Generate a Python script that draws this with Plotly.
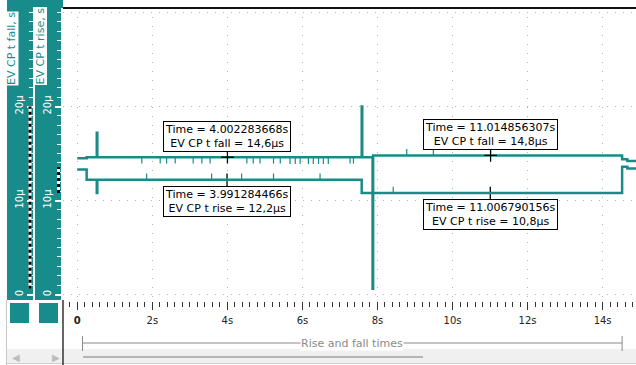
import plotly.graph_objects as go

W, H = 636, 365
TEAL = "#178c8b"
LINE = "#1b8b87"
FONT = "DejaVu Sans"

# ---------------- data (time in s, values in µs) ----------------
fall_t = [0.00, 0.25, 0.52, 0.535, 7.58, 7.595, 7.87, 7.885, 14.52, 14.66, 14.90]
fall_v = [14.5, 14.6, 17.2, 14.6, 20.0, 14.6, 0.6, 14.8, 14.4, 14.2, 14.2]

rise_t = [0.00, 0.25, 0.52, 0.535, 7.58, 14.52, 14.66, 14.90]
rise_v = [13.3, 12.2, 10.8, 12.2, 10.8, 13.6, 13.4, 13.4]

# short glitches seen on the traces
fall_glitch_t = [1.72, 2.21, 2.38, 2.61, 3.09, 3.32, 3.54, 4.52, 4.69, 4.87, 5.23, 5.41,
                 5.67, 5.81, 5.94, 6.16, 6.29, 6.43, 6.56, 6.69, 7.27, 7.36, 8.78, 9.49]
fall_glitch_v = [14.3, 14.3, 14.3, 14.3, 14.3, 14.3, 14.3, 14.3, 14.3, 14.3, 14.3, 14.3,
                 14.25, 14.25, 14.25, 14.25, 14.25, 14.25, 14.25, 14.25, 14.3, 14.3, 15.1, 15.1]
rise_glitch_t = [1.85, 3.58, 4.38, 5.23, 6.47, 8.42]
rise_glitch_v = [12.5, 12.5, 12.5, 12.5, 12.5, 11.1]

cursor_fall_t = [4.002283668, 11.014856307]
cursor_fall_v = [14.6, 14.8]
cursor_rise_t = [3.991284466, 11.006790156]
cursor_rise_v = [12.2, 10.8]

x_tick_vals = [0, 2, 4, 6, 8, 10, 12, 14]
x_tick_text = ["<b>0</b>", "2s", "4s", "6s", "8s", "10s", "12s", "14s"]
y_tick_vals = [0, 10, 20]
y_tick_text = ["0", "10µ", "20µ"]
y_grid_vals = [0, 10, 20, 30]

x_range = [-0.38, 14.89]
y_range = [-0.69, 30.48]
bracket_range = [0.14, 14.52]
series_names = ["EV CP t fall, s", "EV CP t rise, s"]
x_title = "Rise and fall times"


def px(x):
    return x / W


def py(y):
    return 1 - y / H


fig = go.Figure()
fig.add_trace(go.Scatter(x=fall_t, y=fall_v, mode="lines", line=dict(color=LINE, width=2.5, shape="hv"),
                         yaxis="y2", hoverinfo="skip"))
fig.add_trace(go.Scatter(x=rise_t, y=rise_v, mode="lines", line=dict(color=LINE, width=2.5, shape="hv"),
                         yaxis="y3", hoverinfo="skip"))
fig.add_trace(go.Scatter(x=fall_glitch_t, y=fall_glitch_v, mode="markers", yaxis="y2", hoverinfo="skip",
                         marker=dict(symbol="line-ns", size=5, line=dict(color=LINE, width=1.2))))
fig.add_trace(go.Scatter(x=rise_glitch_t, y=rise_glitch_v, mode="markers", yaxis="y3", hoverinfo="skip",
                         marker=dict(symbol="line-ns", size=5, line=dict(color=LINE, width=1.2))))
fig.add_trace(go.Scatter(x=cursor_fall_t + cursor_rise_t, y=cursor_fall_v + cursor_rise_v, mode="markers",
                         marker=dict(symbol="cross-thin", size=9, line=dict(color="black", width=1.3)),
                         yaxis="y2", hoverinfo="skip"))

grid_col = "#b5b5b5"
common_y = dict(range=y_range, zeroline=False, automargin=False, fixedrange=True)

panel_axis = dict(
    overlaying="y", anchor="free", side="left", showgrid=False, showline=True,
    linecolor="white", linewidth=2, ticks="outside", ticklen=6, tickwidth=1.5, tickcolor="white",
    tickmode="array", tickvals=y_tick_vals, ticktext=y_tick_text, tickangle=-90,
    tickfont=dict(family=FONT, size=10, color="white"),
    minor=dict(tickmode="linear", tick0=0, dtick=1, ticks="outside", ticklen=4, tickcolor="white",
               tickwidth=1, showgrid=False),
    **common_y,
)

fig.update_layout(
    width=W, height=H, template="none", showlegend=False,
    margin=dict(l=0, r=0, t=0, b=0),
    paper_bgcolor="white", plot_bgcolor="white",
    xaxis=dict(domain=[63 / W, 1], range=x_range, tickmode="array", tickvals=x_tick_vals, ticktext=x_tick_text,
               ticks="outside", ticklen=8, tickwidth=1, tickcolor="#333",
               minor=dict(tickmode="linear", tick0=0, dtick=0.2, ticks="outside", ticklen=5,
                          tickcolor="#333", tickwidth=1, showgrid=False),
               showgrid=True, gridcolor=grid_col, griddash="1px,8px", gridwidth=1,
               zeroline=False, showline=False, tickfont=dict(family=FONT, size=10, color="#222"),
               ticklabelstandoff=2, anchor="y", automargin=False, fixedrange=True),
    yaxis=dict(domain=[1 - 301 / H, 1 - 8 / H], tickmode="array", tickvals=y_grid_vals, showticklabels=False,
               ticks="", showgrid=True, gridcolor=grid_col, griddash="1px,7px", gridwidth=1, showline=False,
               **common_y),
    yaxis2=dict(position=33.5 / W, **panel_axis),
    yaxis3=dict(position=61.5 / W, **panel_axis),
)

shapes = []
# teal panels
shapes.append(dict(type="rect", xref="paper", yref="paper", x0=px(7), x1=px(63), y0=py(300), y1=py(0),
                   fillcolor=TEAL, line=dict(width=0), layer="below"))
# range bars (data min..max)
for xpix, vals in ((30, fall_v), (58.5, rise_v)):
    shapes.append(dict(type="line", xref="paper", yref="y", x0=px(xpix), x1=px(xpix), y0=min(vals), y1=max(vals),
                       line=dict(color="white", width=3)))
    shapes.append(dict(type="line", xref="paper", yref="y", x0=px(xpix), x1=px(xpix), y0=min(vals), y1=max(vals),
                       line=dict(color="black", width=3, dash="3px,3px")))
# top border
shapes.append(dict(type="line", xref="paper", yref="paper", x0=px(63), x1=1, y0=py(8), y1=py(8),
                   line=dict(color="#111", width=2)))
# bottom-left squares
for x0 in (10, 39):
    shapes.append(dict(type="rect", xref="paper", yref="paper", x0=px(x0), x1=px(x0 + 19), y0=py(323), y1=py(303),
                       fillcolor=TEAL, line=dict(width=0)))
# scroll strip
shapes.append(dict(type="rect", xref="paper", yref="paper", x0=px(7), x1=1, y0=py(363), y1=py(349),
                   fillcolor="#f0f0f0", line=dict(width=0), layer="below"))
shapes.append(dict(type="line", xref="paper", yref="paper", x0=px(7), x1=1, y0=py(363.5), y1=py(363.5),
                   line=dict(color="#cfcfcf", width=1)))
shapes.append(dict(type="line", xref="paper", yref="paper", x0=px(83), x1=px(423), y0=py(357), y1=py(357),
                   line=dict(color="#7a7a7a", width=1)))
# separators
shapes.append(dict(type="line", xref="paper", yref="paper", x0=px(63), x1=px(63), y0=py(300), y1=py(365),
                   line=dict(color="#333", width=1.5)))
shapes.append(dict(type="line", xref="paper", yref="paper", x0=px(6.5), x1=px(6.5), y0=py(300), y1=py(365),
                   line=dict(color="#c8c8c8", width=1)))
# x bracket
shapes.append(dict(type="line", xref="x", yref="paper", x0=bracket_range[0], x1=bracket_range[1],
                   y0=py(343), y1=py(343), line=dict(color="#8a8a8a", width=1)))
for xb in bracket_range:
    shapes.append(dict(type="line", xref="x", yref="paper", x0=xb, x1=xb, y0=py(336), y1=py(351),
                       line=dict(color="#8a8a8a", width=1)))

annotations = []
for xpix, name in zip((11.5, 40), series_names):
    annotations.append(dict(text=name, textangle=-90, xref="paper", yref="paper", x=px(xpix), y=py(86),
                            xanchor="center", yanchor="bottom", showarrow=False, bgcolor="white", borderpad=0,
                            font=dict(family=FONT, size=11, color=TEAL)))
for t, v in zip(cursor_fall_t, cursor_fall_v):
    annotations.append(dict(text=f"Time = {t:.9f}s<br>EV CP t fall = {str(v).replace('.', ',')}µs",
                            xref="x", yref="y", x=t, y=v, xanchor="center", yanchor="bottom", yshift=5,
                            showarrow=False, bgcolor="white", bordercolor="black", borderwidth=1, borderpad=1,
                            font=dict(family=FONT, size=11, color="black")))
for t, v in zip(cursor_rise_t, cursor_rise_v):
    annotations.append(dict(text=f"Time = {t:.9f}s<br>EV CP t rise = {str(v).replace('.', ',')}µs",
                            xref="x", yref="y", x=t, y=v, xanchor="center", yanchor="top", yshift=-6,
                            showarrow=False, bgcolor="white", bordercolor="black", borderwidth=1, borderpad=1,
                            font=dict(family=FONT, size=11, color="black")))
annotations.append(dict(text=x_title, xref="x", yref="paper", x=sum(bracket_range) / 2, y=py(343),
                        xanchor="center", yanchor="middle", showarrow=False, bgcolor="white", borderpad=0,
                        font=dict(family=FONT, size=11, color="#8a8a8a")))
for xpix, ch in ((16, "◀"), (56, "▶")):
    annotations.append(dict(text=ch, xref="paper", yref="paper", x=px(xpix), y=py(357), xanchor="center",
                            yanchor="middle", showarrow=False, font=dict(family=FONT, size=10, color="#bdbdbd")))

fig.update_layout(shapes=shapes, annotations=annotations)
fig.write_html("out.html", config={"displayModeBar": False},
               post_script="document.body.style.margin='0';document.body.style.padding='0';")
